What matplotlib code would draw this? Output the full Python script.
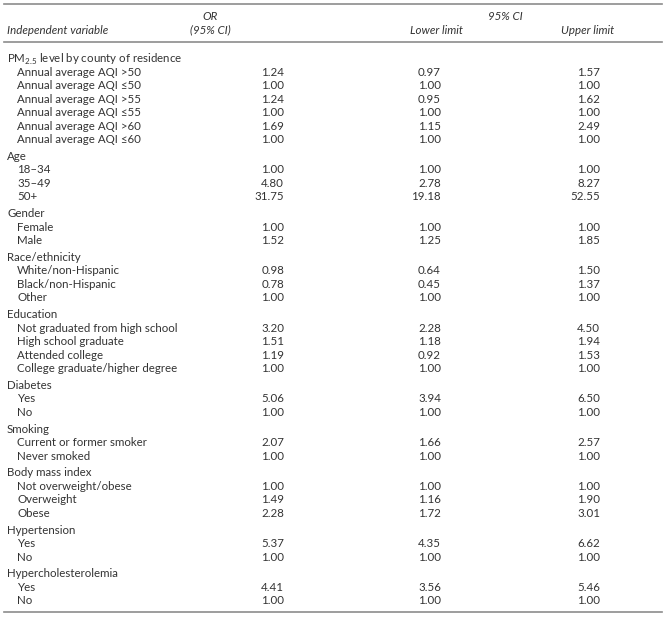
import matplotlib.pyplot as plt

plt.rcParams['font.family'] = ['Lato', 'DejaVu Sans']
plt.rcParams['mathtext.fontset'] = 'custom'
plt.rcParams['mathtext.rm'] = 'Lato'

# group headers and their rows
groups = ['PM$_{\\mathregular{2.5}}$ level by county of residence', 'Age', 'Gender',
          'Race/ethnicity', 'Education', 'Diabetes', 'Smoking',
          'Body mass index', 'Hypertension', 'Hypercholesterolemia']
labels = [
    ['Annual average AQI >50', 'Annual average AQI \u226450', 'Annual average AQI >55',
     'Annual average AQI \u226455', 'Annual average AQI >60', 'Annual average AQI \u226460'],
    ['18\u201334', '35\u201349', '50+'],
    ['Female', 'Male'],
    ['White/non-Hispanic', 'Black/non-Hispanic', 'Other'],
    ['Not graduated from high school', 'High school graduate', 'Attended college',
     'College graduate/higher degree'],
    ['Yes', 'No'],
    ['Current or former smoker', 'Never smoked'],
    ['Not overweight/obese', 'Overweight', 'Obese'],
    ['Yes', 'No'],
    ['Yes', 'No'],
]
odds = [1.24, 1.00, 1.24, 1.00, 1.69, 1.00,
        1.00, 4.80, 31.75,
        1.00, 1.52,
        0.98, 0.78, 1.00,
        3.20, 1.51, 1.19, 1.00,
        5.06, 1.00,
        2.07, 1.00,
        1.00, 1.49, 2.28,
        5.37, 1.00,
        4.41, 1.00]
lower = [0.97, 1.00, 0.95, 1.00, 1.15, 1.00,
         1.00, 2.78, 19.18,
         1.00, 1.25,
         0.64, 0.45, 1.00,
         2.28, 1.18, 0.92, 1.00,
         3.94, 1.00,
         1.66, 1.00,
         1.00, 1.16, 1.72,
         4.35, 1.00,
         3.56, 1.00]
upper = [1.57, 1.00, 1.62, 1.00, 2.49, 1.00,
         1.00, 8.27, 52.55,
         1.00, 1.85,
         1.50, 1.37, 1.00,
         4.50, 1.94, 1.53, 1.00,
         6.50, 1.00,
         2.57, 1.00,
         1.00, 1.90, 3.01,
         6.62, 1.00,
         5.46, 1.00]

W, H = 667, 618
fig = plt.figure(figsize=(W / 100, H / 100), dpi=100)
ax = fig.add_axes([0, 0, 1, 1])
ax.set_xlim(0, W)
ax.set_ylim(H, 0)
ax.axis('off')

txt = '#333333'
rule = '#8c8c8c'
fs = 8.3

# rules
ax.plot([4, 662], [4, 4], color=rule, lw=1.2)
ax.plot([4, 662], [42, 42], color=rule, lw=1.2)
ax.plot([4, 662], [612, 612], color=rule, lw=1.2)

# header
ax.text(7, 30, 'Independent variable', style='italic', fontsize=fs, color=txt, va='center')
ax.text(210, 17, 'OR', style='italic', fontsize=fs, color=txt, va='center', ha='center')
ax.text(210, 30, '(95% CI)', style='italic', fontsize=fs, color=txt, va='center', ha='center')
ax.text(505, 17, '95% CI', style='italic', fontsize=fs, color=txt, va='center', ha='center')
ax.text(436, 30, 'Lower limit', style='italic', fontsize=fs, color=txt, va='center', ha='center')
ax.text(588, 30, 'Upper limit', style='italic', fontsize=fs, color=txt, va='center', ha='center')

pitch = 13.43
gap = 3.5
y = 59
k = 0
for g, items in zip(groups, labels):
    ax.text(7, y, g, fontsize=fs, color=txt, va='center')
    y += pitch
    for lab in items:
        ax.text(17, y, lab, fontsize=fs, color=txt, va='center')
        ax.text(284, y, f'{odds[k]:.2f}', fontsize=fs, color=txt, va='center', ha='right')
        ax.text(441, y, f'{lower[k]:.2f}', fontsize=fs, color=txt, va='center', ha='right')
        ax.text(600, y, f'{upper[k]:.2f}', fontsize=fs, color=txt, va='center', ha='right')
        k += 1
        y += pitch
    y += gap

fig.savefig('out.png', dpi=100)
